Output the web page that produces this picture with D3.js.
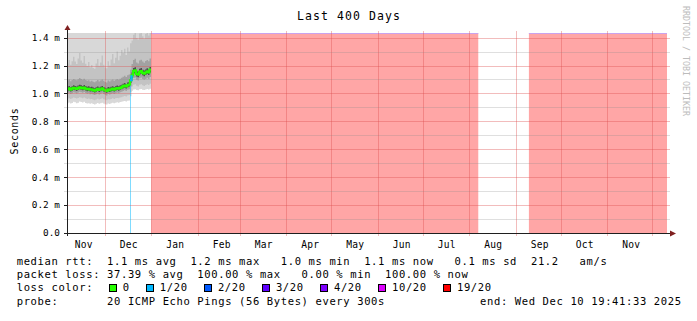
<!DOCTYPE html>
<html>
<head>
<meta charset="utf-8">
<script src="https://cdn.jsdelivr.net/npm/d3@7"></script>
<style>
  body { margin: 0; background: #fff; }
  text { font-family: "DejaVu Sans Mono", monospace; }
</style>
</head>
<body>
<svg id="chart"></svg>
<script>
// ---- data (rtt in ms, one value per day from the start) ----
const endTime = new Date(2025, 11, 10, 19, 41, 33);
const spanDays = 400;

const medianRtt = [
  1.030, 1.036, 1.028, 1.034, 1.040, 1.036, 1.032, 1.038, 1.044, 1.040,
  1.036, 1.042, 1.035, 1.030, 1.033, 1.027, 1.030, 1.024, 1.020, 1.026,
  1.032, 1.025, 1.030, 1.036, 1.028, 1.022, 1.018, 1.028, 1.024, 1.030,
  1.034, 1.028, 1.034, 1.038, 1.034, 1.040, 1.044, 1.052, 1.056, 1.050,
  1.060, 1.064, 1.095, 1.130, 1.160, 1.165, 1.140, 1.135, 1.155, 1.160,
  1.148, 1.142, 1.150, 1.158, 1.150, 1.170
];
const pingMin = [
  0.930, 0.935, 0.928, 0.932, 0.940, 0.936, 0.930, 0.934, 0.942, 0.938,
  0.935, 0.940, 0.932, 0.928, 0.930, 0.926, 0.930, 0.924, 0.920, 0.926,
  0.932, 0.926, 0.930, 0.934, 0.928, 0.922, 0.920, 0.928, 0.924, 0.930,
  0.934, 0.930, 0.934, 0.936, 0.934, 0.938, 0.940, 0.944, 0.946, 0.942,
  0.948, 0.950, 0.980, 1.020, 1.028, 1.030, 1.024, 1.022, 1.030, 1.032,
  1.026, 1.024, 1.028, 1.032, 1.028, 1.034
];
const pingP10 = [
  0.962, 0.966, 0.960, 0.965, 0.970, 0.967, 0.963, 0.968, 0.972, 0.969,
  0.966, 0.971, 0.965, 0.960, 0.963, 0.958, 0.961, 0.955, 0.952, 0.957,
  0.962, 0.957, 0.961, 0.966, 0.959, 0.954, 0.951, 0.959, 0.956, 0.961,
  0.965, 0.960, 0.965, 0.968, 0.965, 0.970, 0.973, 0.978, 0.982, 0.978,
  0.985, 0.988, 1.010, 1.050, 1.062, 1.066, 1.055, 1.050, 1.062, 1.066,
  1.058, 1.054, 1.060, 1.066, 1.060, 1.070
];
const pingP25 = [
  0.998, 1.004, 0.996, 1.002, 1.008, 1.004, 1.000, 1.006, 1.012, 1.008,
  1.004, 1.010, 1.003, 0.998, 1.001, 0.995, 0.998, 0.992, 0.988, 0.994,
  1.000, 0.993, 0.998, 1.004, 0.996, 0.990, 0.986, 0.996, 0.992, 0.998,
  1.002, 0.996, 1.002, 1.006, 1.002, 1.008, 1.012, 1.018, 1.022, 1.018,
  1.026, 1.030, 1.050, 1.090, 1.110, 1.115, 1.098, 1.092, 1.108, 1.114,
  1.104, 1.098, 1.104, 1.112, 1.104, 1.118
];
const pingP40 = [
  1.016, 1.022, 1.014, 1.020, 1.026, 1.022, 1.018, 1.024, 1.030, 1.026,
  1.022, 1.028, 1.021, 1.016, 1.019, 1.013, 1.016, 1.010, 1.006, 1.012,
  1.018, 1.011, 1.016, 1.022, 1.014, 1.008, 1.004, 1.014, 1.010, 1.016,
  1.020, 1.014, 1.020, 1.024, 1.020, 1.026, 1.030, 1.037, 1.041, 1.036,
  1.045, 1.049, 1.075, 1.112, 1.140, 1.146, 1.122, 1.116, 1.136, 1.142,
  1.130, 1.124, 1.132, 1.140, 1.132, 1.150
];
const pingP60 = [
  1.048, 1.054, 1.046, 1.052, 1.058, 1.054, 1.050, 1.056, 1.062, 1.058,
  1.054, 1.060, 1.053, 1.048, 1.051, 1.045, 1.048, 1.042, 1.038, 1.044,
  1.050, 1.043, 1.048, 1.054, 1.046, 1.040, 1.036, 1.046, 1.042, 1.048,
  1.052, 1.046, 1.052, 1.056, 1.052, 1.058, 1.062, 1.070, 1.074, 1.068,
  1.078, 1.082, 1.115, 1.150, 1.182, 1.188, 1.162, 1.156, 1.176, 1.182,
  1.170, 1.164, 1.172, 1.180, 1.172, 1.190
];
const pingP75 = [
  1.092, 1.100, 1.088, 1.096, 1.104, 1.098, 1.094, 1.102, 1.110, 1.104,
  1.098, 1.106, 1.096, 1.090, 1.095, 1.086, 1.090, 1.084, 1.080, 1.088,
  1.096, 1.086, 1.092, 1.100, 1.090, 1.082, 1.078, 1.092, 1.086, 1.094,
  1.100, 1.090, 1.098, 1.104, 1.098, 1.106, 1.112, 1.120, 1.126, 1.118,
  1.130, 1.136, 1.170, 1.210, 1.240, 1.248, 1.222, 1.214, 1.236, 1.242,
  1.228, 1.220, 1.232, 1.240, 1.230, 1.250
];
const pingP90 = [
  1.215, 1.240, 1.205, 1.230, 1.262, 1.228, 1.210, 1.250, 1.290, 1.236,
  1.220, 1.268, 1.212, 1.196, 1.226, 1.188, 1.204, 1.182, 1.176, 1.214,
  1.246, 1.198, 1.222, 1.272, 1.206, 1.186, 1.180, 1.230, 1.200, 1.244,
  1.282, 1.216, 1.256, 1.300, 1.238, 1.270, 1.312, 1.290, 1.320, 1.276,
  1.330, 1.300, 1.360, 1.380, 1.420, 1.440, 1.398, 1.386, 1.430, 1.445,
  1.410, 1.392, 1.425, 1.440, 1.415, 1.445
];
const pingMax = [
  1.62, 1.58, 1.66, 1.60, 1.71, 1.59, 1.57, 1.64, 1.75, 1.61,
  1.60, 1.68, 1.58, 1.55, 1.63, 1.56, 1.59, 1.54, 1.52, 1.60,
  1.66, 1.57, 1.61, 1.70, 1.58, 1.55, 1.53, 1.62, 1.57, 1.65,
  1.72, 1.60, 1.67, 1.76, 1.63, 1.69, 1.78, 1.74, 1.80, 1.71,
  1.82, 1.77, 1.84, 1.86, 1.90, 1.92, 1.85, 1.83, 1.91, 1.93,
  1.88, 1.84, 1.90, 1.92, 1.87, 1.94
];

// partial loss seen in the data (day index, loss level index)
const lossDays = [42];
const lossLevel = [1];
// 100 % loss periods (no rtt data)
const outageStart = ['2025-01-01T00:00:00', '2025-09-09T18:00:00'];
const outageEnd = ['2025-08-07T00:00:00', '2025-12-10T19:41:33'];

const lossLabels = ['0', '1/20', '2/20', '3/20', '4/20', '10/20', '19/20'];
const lossColors = ['#26ff00', '#00b8ff', '#0059ff', '#5e00ff', '#7e00ff', '#dd00ff', '#ff0000'];

const yMajor = [0, 0.2, 0.4, 0.6, 0.8, 1.0, 1.2, 1.4];
const yMinor = [0.1, 0.3, 0.5, 0.7, 0.9, 1.1, 1.3];
const yTop = 1.433;

const titleText = 'Last 400 Days';
const yLabel = 'Seconds';
const legendRtt = 'median rtt:  1.1 ms avg  1.2 ms max   1.0 ms min  1.1 ms now   0.1 ms sd  21.2   am/s';
const legendLoss = 'packet loss: 37.39 % avg  100.00 % max   0.00 % min  100.00 % now';
const legendColorLabel = 'loss color:';
const legendProbe = 'probe:       20 ICMP Echo Pings (56 Bytes) every 300s';
const legendEnd = 'end: Wed Dec 10 19:41:33 2025';
const watermark = 'RRDTOOL / TOBI OETIKER';

// ---- layout ----
const width = 697, height = 321;
const plot = {left: 67, right: 667, top: 33, bottom: 233};
const charW = 6.95;
const legendX = 16.7;

const startTime = new Date(+endTime - spanDays * 864e5);
const dayDate = i => new Date(+startTime + i * 864e5);

const x = d3.scaleTime().domain([startTime, endTime]).range([plot.left, plot.right]);
const y = d3.scaleLinear().domain([0, yTop]).range([plot.bottom, plot.top]);

const svg = d3.select('#chart').attr('width', width).attr('height', height);

svg.append('defs').append('clipPath').attr('id', 'plotclip')
  .append('rect')
  .attr('x', plot.left).attr('y', plot.top)
  .attr('width', plot.right - plot.left).attr('height', plot.bottom - plot.top);

const data = svg.append('g').attr('clip-path', 'url(#plotclip)');

// 100% loss bars
outageStart.forEach((s, i) => {
  const x0 = x(new Date(s)), x1 = x(new Date(outageEnd[i]));
  data.append('rect')
    .attr('x', x0).attr('y', plot.top)
    .attr('width', x1 - x0).attr('height', plot.bottom - plot.top)
    .attr('fill', '#ff0000').attr('fill-opacity', 0.35);
  data.append('line')
    .attr('x1', x0).attr('x2', x1)
    .attr('y1', plot.top + 0.5).attr('y2', plot.top + 0.5)
    .attr('stroke', '#c9a3ee').attr('stroke-width', 1);
});

// smoke: rows with one extra step end point
const rows = medianRtt.map((m, i) => i);
rows.push(medianRtt.length);
const val = (arr, i) => arr[Math.min(i, arr.length - 1)];

const bands = [
  [pingMin, pingMax, '#d8d8d8'],
  [pingP10, pingP90, '#c3c3c3'],
  [pingP25, pingP75, '#a2a2a2'],
  [pingP40, pingP60, '#4e4e4e']
];
bands.forEach(([lo, hi, col]) => {
  const area = d3.area()
    .curve(d3.curveStepAfter)
    .x(i => x(dayDate(i)))
    .y0(i => y(val(lo, i)))
    .y1(i => y(val(hi, i)));
  data.append('path').attr('d', area(rows)).attr('fill', col);
});

// loss marker lines
lossDays.forEach((d, k) => {
  const xx = Math.round(x(dayDate(d))) + 0.5;
  data.append('line')
    .attr('x1', xx).attr('x2', xx)
    .attr('y1', y(medianRtt[d])).attr('y2', plot.bottom)
    .attr('stroke', lossColors[lossLevel[k]]).attr('stroke-opacity', 0.5);
});

// median line
const medLine = d3.line()
  .curve(d3.curveStepAfter)
  .x(i => x(dayDate(i)))
  .y(i => y(val(medianRtt, i)));
data.append('path').attr('d', medLine(rows))
  .attr('fill', 'none').attr('stroke', lossColors[0]).attr('stroke-width', 2.2);
lossDays.forEach((d, k) => {
  data.append('path').attr('d', medLine([d, d + 1]))
    .attr('fill', 'none').attr('stroke', lossColors[lossLevel[k]]).attr('stroke-width', 2.2);
});

// grid on top
const grid = svg.append('g');
yMinor.forEach(v => {
  grid.append('line')
    .attr('x1', plot.left - 3).attr('x2', plot.right + 3)
    .attr('y1', Math.round(y(v)) + 0.5).attr('y2', Math.round(y(v)) + 0.5)
    .attr('stroke', 'rgba(140,140,140,0.28)');
});
yMajor.slice(1).forEach(v => {
  grid.append('line')
    .attr('x1', plot.left - 3).attr('x2', plot.right + 3)
    .attr('y1', Math.round(y(v)) + 0.5).attr('y2', Math.round(y(v)) + 0.5)
    .attr('stroke', 'rgba(222,79,79,0.38)');
});
const months = d3.timeMonth.range(d3.timeMonth.floor(startTime), endTime);
months.filter(m => m >= startTime).forEach(m => {
  const xx = Math.round(x(m)) + 0.5;
  grid.append('line')
    .attr('x1', xx).attr('x2', xx)
    .attr('y1', plot.top - 2).attr('y2', plot.bottom + 3)
    .attr('stroke', 'rgba(222,79,79,0.38)');
});

// month labels (centered half a month after the month start)
months.forEach(m => {
  const lx = x(d3.timeDay.offset(m, 16));
  if (lx < plot.left || lx > plot.right) return;
  svg.append('text')
    .attr('x', lx).attr('y', 248)
    .attr('text-anchor', 'middle')
    .attr('font-size', 9.6).attr('letter-spacing', 0.2)
    .text(d3.timeFormat('%b')(m));
});

// y labels and ticks
yMajor.forEach(v => {
  svg.append('text')
    .attr('x', 60).attr('y', y(v) + 3.4)
    .attr('text-anchor', 'end')
    .attr('font-size', 9.4)
    .text(v === 0 ? '0.0' : v.toFixed(1) + ' m');
  svg.append('line')
    .attr('x1', plot.left - 3).attr('x2', plot.left)
    .attr('y1', Math.round(y(v)) + 0.5).attr('y2', Math.round(y(v)) + 0.5)
    .attr('stroke', '#1f1f1f');
});

// axes with arrows
svg.append('line')
  .attr('x1', plot.left + 0.5).attr('x2', plot.left + 0.5)
  .attr('y1', plot.bottom + 3).attr('y2', plot.top - 5)
  .attr('stroke', '#1f1f1f');
svg.append('line')
  .attr('x1', plot.left - 3).attr('x2', plot.right + 6)
  .attr('y1', plot.bottom + 0.5).attr('y2', plot.bottom + 0.5)
  .attr('stroke', '#1f1f1f');
svg.append('path')
  .attr('d', `M${plot.left - 2.5},${plot.top - 3}L${plot.left + 3.5},${plot.top - 3}L${plot.left + 0.5},${plot.top - 8}Z`)
  .attr('fill', '#7f1f1f');
svg.append('path')
  .attr('d', `M${plot.right + 3},${plot.bottom - 2.5}L${plot.right + 3},${plot.bottom + 3.5}L${plot.right + 9},${plot.bottom + 0.5}Z`)
  .attr('fill', '#7f1f1f');

// title, axis label, watermark
svg.append('text')
  .attr('x', 349).attr('y', 20)
  .attr('text-anchor', 'middle')
  .attr('font-size', 11.5).attr('letter-spacing', 1.08)
  .text(titleText);
svg.append('text')
  .attr('transform', 'translate(18,131) rotate(-90)')
  .attr('text-anchor', 'middle')
  .attr('font-size', 10).attr('letter-spacing', 0.68)
  .text(yLabel);
svg.append('text')
  .attr('transform', 'translate(683,6) rotate(90)')
  .attr('font-size', 8.3)
  .attr('fill', '#bcbcbc')
  .text(watermark);

// legend
const legFont = 10.5;
const legSpacing = charW - legFont * 0.6021;
const rowY = [264.5, 277.9, 291.3, 304.7];
const legendText = (str, xx, yy, anchor) => svg.append('text')
  .attr('x', xx).attr('y', yy)
  .attr('text-anchor', anchor || 'start')
  .attr('font-size', legFont).attr('letter-spacing', legSpacing)
  .style('white-space', 'pre')
  .text(str);

legendText(legendRtt, legendX, rowY[0]);
legendText(legendLoss, legendX, rowY[1]);
legendText(legendColorLabel, legendX, rowY[2]);
let col = 13.3;
lossLabels.forEach((lab, i) => {
  const bx = legendX + col * charW;
  svg.append('rect')
    .attr('x', Math.round(bx) + 0.5).attr('y', rowY[2] - 6.8)
    .attr('width', 7).attr('height', 7)
    .attr('fill', lossColors[i]).attr('stroke', '#000');
  legendText(lab, bx + 1.95 * charW, rowY[2]);
  col += lab.length + 4.35;
});
legendText(legendProbe, legendX, rowY[3]);
legendText(legendEnd, 681 + legSpacing, rowY[3], 'end');
</script>
</body>
</html>
